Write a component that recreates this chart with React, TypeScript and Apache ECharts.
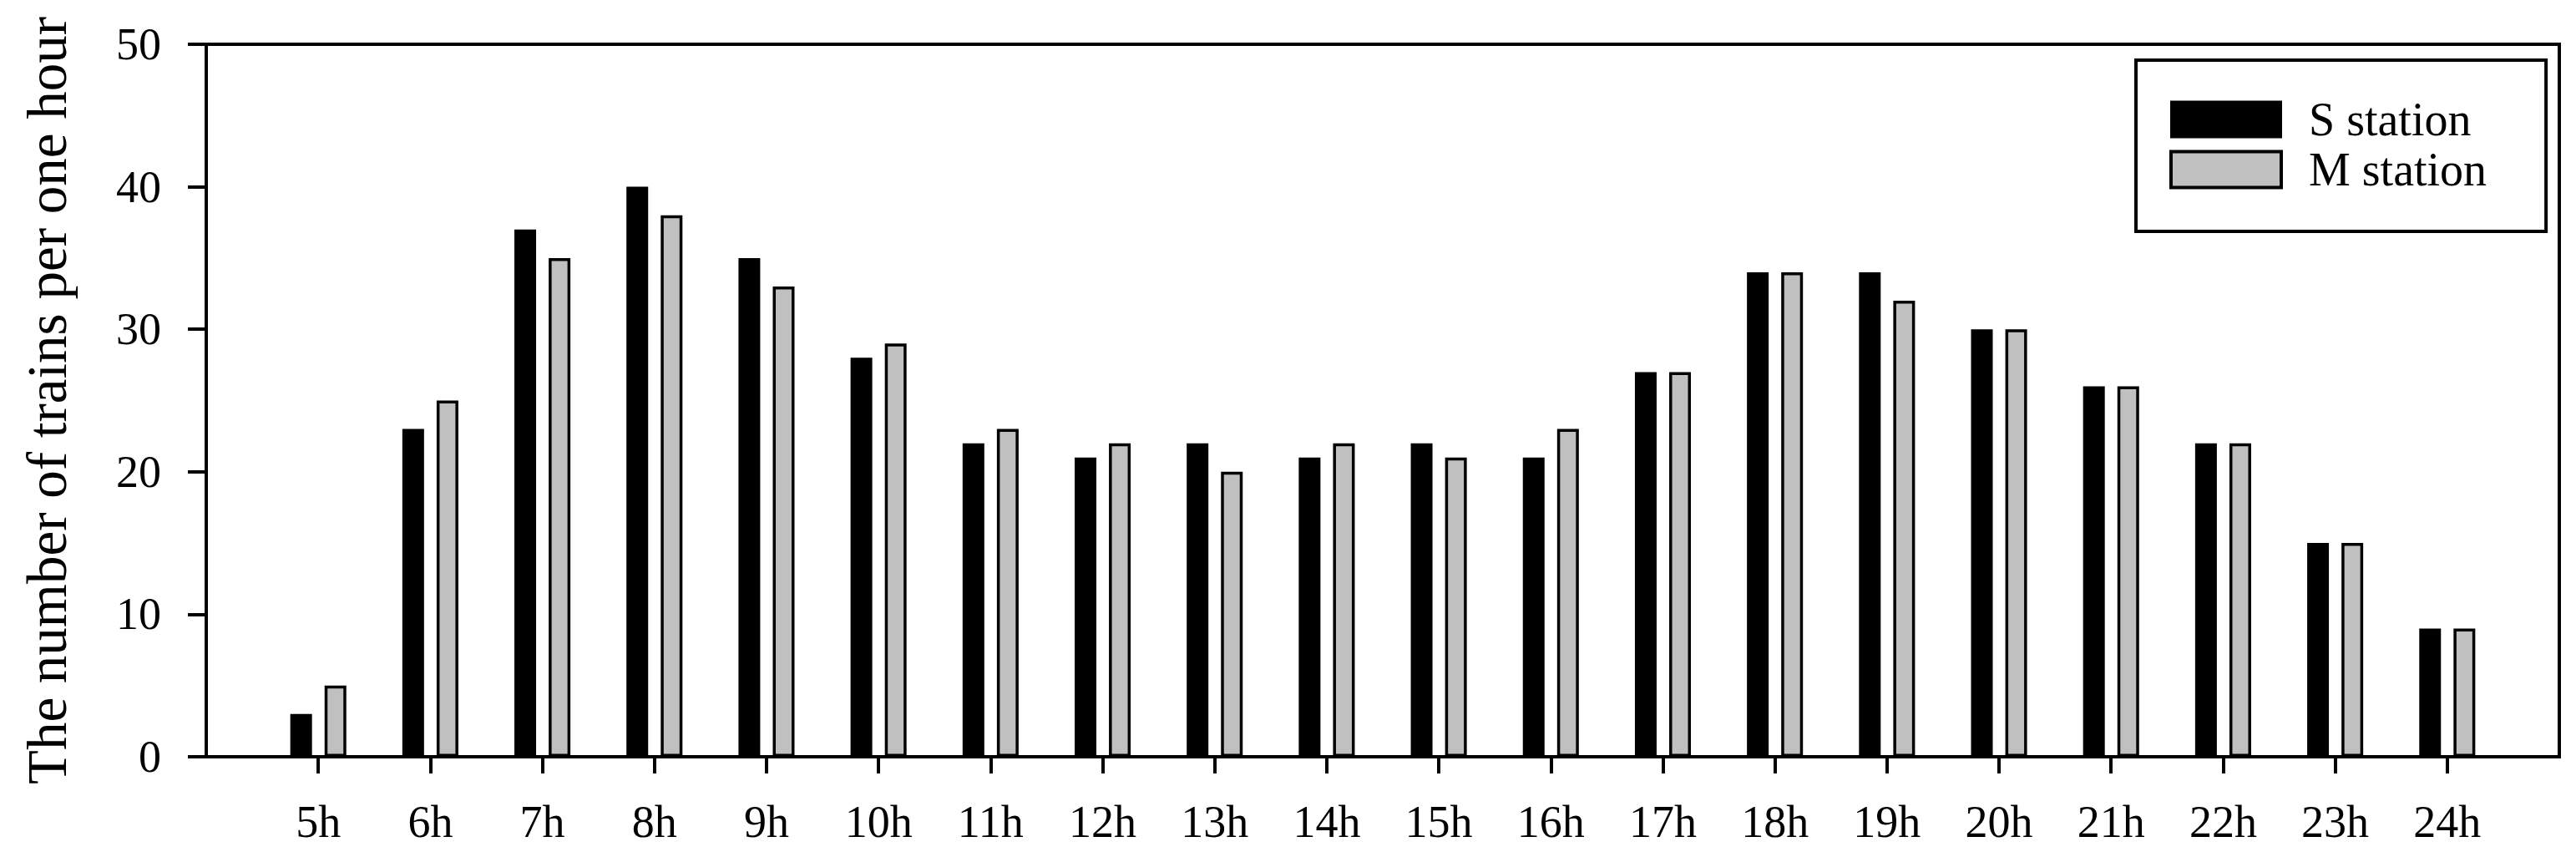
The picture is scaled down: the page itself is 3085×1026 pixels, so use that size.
import React, { useEffect, useRef } from "react";
import * as echarts from "echarts";

const hours = ["5h", "6h", "7h", "8h", "9h", "10h", "11h", "12h", "13h", "14h", "15h", "16h", "17h", "18h", "19h", "20h", "21h", "22h", "23h", "24h"];
const sStation = [3, 23, 37, 40, 35, 28, 22, 21, 22, 21, 22, 21, 27, 34, 34, 30, 26, 22, 15, 9];
const mStation = [5, 25, 35, 38, 33, 29, 23, 22, 20, 22, 21, 23, 27, 34, 32, 30, 26, 22, 15, 9];
const yTicks = [0, 10, 20, 30, 40, 50];

const FONT = "'Liberation Serif', 'Times New Roman', serif";

export default function App() {
  const ref = useRef<HTMLDivElement>(null);
  useEffect(() => {
    document.body.style.margin = "0";
    if (!ref.current) return;
    const chart = echarts.init(ref.current, null, { renderer: "svg" });
    // pad the category axis with empty slots so the first/last hours sit one band in from the frame
    const cats = ["", ...hours, ""];
    const pad = (arr: number[]) => [null, ...arr, null];
    chart.setOption({
      animation: false,
      backgroundColor: "#ffffff",
      textStyle: { fontFamily: FONT },
      grid: {
        left: 247,
        top: 53,
        right: 20,
        bottom: 120,
        show: true,
        borderColor: "#000",
        borderWidth: 4,
        backgroundColor: "transparent",
      },
      legend: {
        orient: "vertical",
        left: 2558,
        top: 72,
        padding: [43, 71, 46, 40],
        borderColor: "#000",
        borderWidth: 4,
        borderRadius: 0,
        itemWidth: 132,
        itemHeight: 43,
        itemGap: 4,
        icon: "rect",
        textStyle: {
          fontFamily: FONT,
          fontSize: 56,
          color: "#000",
          lineHeight: 43,
          padding: [0, 0, 0, 28],
        },
        data: [
          { name: "S station", itemStyle: { color: "#000", borderColor: "#000", borderWidth: 2 } },
          { name: "M station", itemStyle: { color: "#c0c0c0", borderColor: "#000", borderWidth: 4 } },
        ],
      },
      xAxis: {
        type: "category",
        data: cats,
        boundaryGap: false,
        axisLine: { show: true, lineStyle: { color: "#000", width: 4 } },
        axisTick: {
          show: true,
          inside: false,
          length: 20,
          lineStyle: { color: "#000", width: 4 },
          interval: (idx: number, val: string) => val !== "",
        },
        axisLabel: {
          interval: 0,
          fontFamily: FONT,
          fontSize: 54,
          color: "#000",
          margin: 51,
        },
        splitLine: { show: false },
      },
      yAxis: {
        type: "value",
        min: yTicks[0],
        max: yTicks[yTicks.length - 1],
        interval: 10,
        name: "The number of trains per one hour",
        nameLocation: "middle",
        nameGap: 158,
        nameTextStyle: { fontFamily: FONT, fontSize: 67, color: "#000" },
        axisLine: { show: true, lineStyle: { color: "#000", width: 4 } },
        axisTick: { show: true, inside: false, length: 22, lineStyle: { color: "#000", width: 4 } },
        axisLabel: { fontFamily: FONT, fontSize: 54, color: "#000", margin: 54 },
        splitLine: { show: false },
      },
      series: [
        {
          name: "S station",
          type: "bar",
          data: pad(sStation),
          barWidth: 26,
          barGap: "58%",
          itemStyle: { color: "#000000", borderColor: "#000", borderWidth: 2 },
        },
        {
          name: "M station",
          type: "bar",
          data: pad(mStation),
          barWidth: 26,
          barGap: "58%",
          itemStyle: { color: "#c0c0c0", borderColor: "#000", borderWidth: 3.5 },
        },
      ],
    });
    return () => chart.dispose();
  }, []);
  return <div ref={ref} style={{ width: 3085, height: 1026 }} />;
}
